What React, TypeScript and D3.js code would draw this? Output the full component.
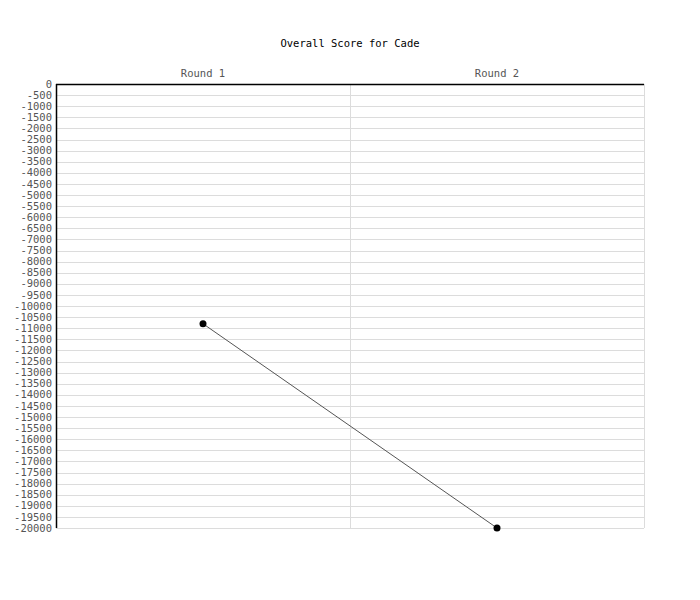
import * as d3 from "d3";
import { useEffect, useRef } from "react";

const rounds = ["Round 1", "Round 2"];
const scores = [-10800, -20000];
const chartTitle = "Overall Score for Cade";
const yDomain = [-20000, 0];
const yStep = 500;

const App = () => {
  const svgRef = useRef<SVGSVGElement>(null);

  useEffect(() => {
    const width = 700;
    const height = 600;
    const margin = { top: 84, right: 56, bottom: 72, left: 56 };
    const innerW = width - margin.left - margin.right;
    const innerH = height - margin.top - margin.bottom;
    const font = "'DejaVu Sans Mono', monospace";

    const svg = d3.select(svgRef.current);
    svg.selectAll("*").remove();

    svg
      .append("text")
      .attr("x", width / 2)
      .attr("y", 47)
      .attr("text-anchor", "middle")
      .attr("font-family", font)
      .attr("font-size", 10.5)
      .attr("fill", "#000")
      .text(chartTitle);

    const chart = svg
      .append("g")
      .attr("transform", `translate(${margin.left},${margin.top})`);

    const xScale = d3.scaleBand().domain(rounds).range([0, innerW]);
    const yScale = d3.scaleLinear().domain(yDomain).range([innerH, 0]);
    const yTicks = d3.range(yDomain[0], yDomain[1] + 1, yStep);

    // horizontal grid
    chart
      .selectAll(".hgrid")
      .data(yTicks)
      .join("line")
      .attr("x1", 0)
      .attr("x2", innerW)
      .attr("y1", (d) => Math.round(yScale(d)) + 0.5)
      .attr("y2", (d) => Math.round(yScale(d)) + 0.5)
      .attr("stroke", "#dcdcdc")
      .attr("stroke-width", 1);

    // vertical grid at band boundaries
    const bounds = [...rounds.map((r) => xScale(r) as number), innerW];
    chart
      .selectAll(".vgrid")
      .data(bounds)
      .join("line")
      .attr("x1", (d) => Math.round(d) + 0.5)
      .attr("x2", (d) => Math.round(d) + 0.5)
      .attr("y1", 0)
      .attr("y2", innerH)
      .attr("stroke", "#dcdcdc")
      .attr("stroke-width", 1);

    // y tick labels
    chart
      .selectAll(".ylab")
      .data(yTicks)
      .join("text")
      .attr("x", -4)
      .attr("y", (d) => yScale(d))
      .attr("dy", "0.35em")
      .attr("text-anchor", "end")
      .attr("font-family", font)
      .attr("font-size", 10.5)
      .attr("fill", "#555")
      .text((d) => String(d).replace("-", "-"));

    // x labels on top
    chart
      .selectAll(".xlab")
      .data(rounds)
      .join("text")
      .attr("x", (d) => (xScale(d) as number) + xScale.bandwidth() / 2)
      .attr("y", -7)
      .attr("text-anchor", "middle")
      .attr("font-family", font)
      .attr("font-size", 10.5)
      .attr("fill", "#555")
      .text((d) => d);

    // axis lines
    chart
      .append("line")
      .attr("x1", 0)
      .attr("x2", innerW)
      .attr("y1", 0.5)
      .attr("y2", 0.5)
      .attr("stroke", "#000")
      .attr("stroke-width", 1.5);
    chart
      .append("line")
      .attr("x1", 0.5)
      .attr("x2", 0.5)
      .attr("y1", 0)
      .attr("y2", innerH)
      .attr("stroke", "#000")
      .attr("stroke-width", 1.5);

    const pts = rounds.map((r, i) => ({ r, v: scores[i] }));
    const line = d3
      .line<{ r: string; v: number }>()
      .x((d) => (xScale(d.r) as number) + xScale.bandwidth() / 2)
      .y((d) => yScale(d.v));

    chart
      .append("path")
      .datum(pts)
      .attr("d", line)
      .attr("fill", "none")
      .attr("stroke", "#555")
      .attr("stroke-width", 1);

    chart
      .selectAll(".pt")
      .data(pts)
      .join("circle")
      .attr("cx", (d) => (xScale(d.r) as number) + xScale.bandwidth() / 2)
      .attr("cy", (d) => yScale(d.v))
      .attr("r", 3.5)
      .attr("fill", "#000");
  }, []);

  return (
    <svg
      ref={svgRef}
      width={700}
      height={600}
      style={{ position: "absolute", left: 0, top: 0, background: "#fff" }}
    />
  );
};

export default App;
